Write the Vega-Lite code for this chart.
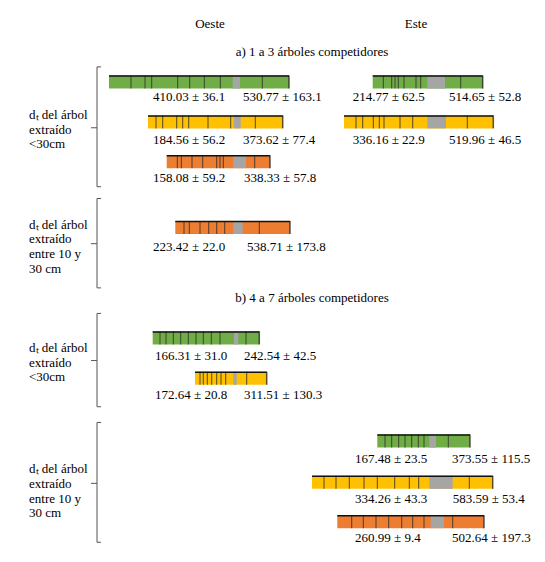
{
  "$schema": "https://vega.github.io/schema/vega-lite/v6.json",
  "width": 545,
  "height": 562,
  "autosize": {"type": "fit", "contains": "padding"},
  "padding": 0,
  "background": "white",
  "config": {
    "view": {"stroke": null},
    "axis": {"disable": true},
    "text": {"font": "Liberation Serif", "fontSize": 13, "color": "black", "baseline": "middle"}
  },
  "datasets": {
    "barras": [
      {"id": "a-O1", "inicio": 109, "fin": 289, "gris_ini": 232.7, "gris_fin": 240, "y": 78.5, "clase": "A"},
      {"id": "a-O2", "inicio": 148, "fin": 282.7, "gris_ini": 233.7, "gris_fin": 240.7, "y": 119, "clase": "B"},
      {"id": "a-O3", "inicio": 166.7, "fin": 270, "gris_ini": 233.3, "gris_fin": 246, "y": 159.5, "clase": "C"},
      {"id": "a-O4", "inicio": 175.3, "fin": 290, "gris_ini": 233.3, "gris_fin": 242.7, "y": 226.5, "clase": "C"},
      {"id": "a-E1", "inicio": 372.7, "fin": 482.7, "gris_ini": 427.3, "gris_fin": 445, "y": 78.5, "clase": "A"},
      {"id": "a-E2", "inicio": 344, "fin": 493.3, "gris_ini": 427.3, "gris_fin": 446, "y": 119, "clase": "B"},
      {"id": "b-O1", "inicio": 152.7, "fin": 259.3, "gris_ini": 234, "gris_fin": 238.3, "y": 339, "clase": "A"},
      {"id": "b-O2", "inicio": 195, "fin": 266.7, "gris_ini": 233.3, "gris_fin": 236.7, "y": 380, "clase": "B"},
      {"id": "b-E1", "inicio": 377.3, "fin": 470, "gris_ini": 429.3, "gris_fin": 436, "y": 444, "clase": "A"},
      {"id": "b-E2", "inicio": 312, "fin": 492.7, "gris_ini": 429.3, "gris_fin": 452.7, "y": 486, "clase": "B"},
      {"id": "b-E3", "inicio": 337.3, "fin": 484, "gris_ini": 430.7, "gris_fin": 444, "y": 526, "clase": "C"}
    ],
    "marcas": [
      {"id": "a-O1", "pos": 131, "y": 78.5}, {"id": "a-O1", "pos": 145, "y": 78.5}, {"id": "a-O1", "pos": 151.7, "y": 78.5},
      {"id": "a-O1", "pos": 177.7, "y": 78.5}, {"id": "a-O1", "pos": 189.7, "y": 78.5}, {"id": "a-O1", "pos": 204.3, "y": 78.5},
      {"id": "a-O1", "pos": 220.3, "y": 78.5}, {"id": "a-O1", "pos": 262.3, "y": 78.5},
      {"id": "a-O2", "pos": 156, "y": 119}, {"id": "a-O2", "pos": 162.7, "y": 119}, {"id": "a-O2", "pos": 176.7, "y": 119},
      {"id": "a-O2", "pos": 182.7, "y": 119}, {"id": "a-O2", "pos": 188.7, "y": 119}, {"id": "a-O2", "pos": 208, "y": 119},
      {"id": "a-O2", "pos": 230.7, "y": 119}, {"id": "a-O2", "pos": 255.3, "y": 119},
      {"id": "a-O3", "pos": 177.3, "y": 159.5}, {"id": "a-O3", "pos": 181.3, "y": 159.5}, {"id": "a-O3", "pos": 192, "y": 159.5},
      {"id": "a-O3", "pos": 202.7, "y": 159.5}, {"id": "a-O3", "pos": 216.7, "y": 159.5}, {"id": "a-O3", "pos": 220, "y": 159.5},
      {"id": "a-O3", "pos": 223.3, "y": 159.5}, {"id": "a-O3", "pos": 254.7, "y": 159.5},
      {"id": "a-O4", "pos": 184, "y": 226.5}, {"id": "a-O4", "pos": 189.3, "y": 226.5}, {"id": "a-O4", "pos": 200, "y": 226.5},
      {"id": "a-O4", "pos": 208.7, "y": 226.5}, {"id": "a-O4", "pos": 216.7, "y": 226.5}, {"id": "a-O4", "pos": 224.7, "y": 226.5},
      {"id": "a-O4", "pos": 259.3, "y": 226.5},
      {"id": "a-E1", "pos": 383.3, "y": 78.5}, {"id": "a-E1", "pos": 391.7, "y": 78.5}, {"id": "a-E1", "pos": 395, "y": 78.5},
      {"id": "a-E1", "pos": 398.3, "y": 78.5}, {"id": "a-E1", "pos": 404, "y": 78.5}, {"id": "a-E1", "pos": 416, "y": 78.5},
      {"id": "a-E1", "pos": 420.7, "y": 78.5}, {"id": "a-E1", "pos": 460.7, "y": 78.5},
      {"id": "a-E2", "pos": 356, "y": 119}, {"id": "a-E2", "pos": 362.7, "y": 119}, {"id": "a-E2", "pos": 373.3, "y": 119},
      {"id": "a-E2", "pos": 379.3, "y": 119}, {"id": "a-E2", "pos": 384, "y": 119}, {"id": "a-E2", "pos": 400, "y": 119},
      {"id": "a-E2", "pos": 412.7, "y": 119}, {"id": "a-E2", "pos": 467.3, "y": 119},
      {"id": "b-O1", "pos": 160, "y": 339}, {"id": "b-O1", "pos": 166, "y": 339}, {"id": "b-O1", "pos": 173.3, "y": 339},
      {"id": "b-O1", "pos": 180.7, "y": 339}, {"id": "b-O1", "pos": 188.3, "y": 339}, {"id": "b-O1", "pos": 196, "y": 339},
      {"id": "b-O1", "pos": 203.3, "y": 339}, {"id": "b-O1", "pos": 211.3, "y": 339}, {"id": "b-O1", "pos": 220, "y": 339},
      {"id": "b-O1", "pos": 246, "y": 339},
      {"id": "b-O2", "pos": 200, "y": 380}, {"id": "b-O2", "pos": 203.3, "y": 380}, {"id": "b-O2", "pos": 207.3, "y": 380},
      {"id": "b-O2", "pos": 211.7, "y": 380}, {"id": "b-O2", "pos": 216.7, "y": 380}, {"id": "b-O2", "pos": 221, "y": 380},
      {"id": "b-O2", "pos": 225.7, "y": 380}, {"id": "b-O2", "pos": 246.7, "y": 380},
      {"id": "b-E1", "pos": 385, "y": 444}, {"id": "b-E1", "pos": 391.7, "y": 444}, {"id": "b-E1", "pos": 398.7, "y": 444},
      {"id": "b-E1", "pos": 405, "y": 444}, {"id": "b-E1", "pos": 411.7, "y": 444}, {"id": "b-E1", "pos": 418.3, "y": 444},
      {"id": "b-E1", "pos": 424, "y": 444}, {"id": "b-E1", "pos": 448.3, "y": 444},
      {"id": "b-E2", "pos": 324, "y": 486}, {"id": "b-E2", "pos": 336, "y": 486}, {"id": "b-E2", "pos": 349.3, "y": 486},
      {"id": "b-E2", "pos": 364, "y": 486}, {"id": "b-E2", "pos": 377.3, "y": 486}, {"id": "b-E2", "pos": 394.7, "y": 486},
      {"id": "b-E2", "pos": 409.3, "y": 486}, {"id": "b-E2", "pos": 418.7, "y": 486}, {"id": "b-E2", "pos": 469.3, "y": 486},
      {"id": "b-E3", "pos": 351.7, "y": 526}, {"id": "b-E3", "pos": 363.3, "y": 526}, {"id": "b-E3", "pos": 376, "y": 526},
      {"id": "b-E3", "pos": 388.7, "y": 526}, {"id": "b-E3", "pos": 401.7, "y": 526}, {"id": "b-E3", "pos": 412.7, "y": 526},
      {"id": "b-E3", "pos": 424, "y": 526}, {"id": "b-E3", "pos": 452.7, "y": 526}
    ],
    "valores": [
      {"x": 153, "y": 94, "texto": "410.03 ± 36.1"}, {"x": 243, "y": 94, "texto": "530.77 ± 163.1"},
      {"x": 153, "y": 137, "texto": "184.56 ± 56.2"}, {"x": 243, "y": 137, "texto": "373.62 ± 77.4"},
      {"x": 153, "y": 176, "texto": "158.08 ± 59.2"}, {"x": 244, "y": 176, "texto": "338.33 ± 57.8"},
      {"x": 153, "y": 246, "texto": "223.42 ± 22.0"}, {"x": 247, "y": 246, "texto": "538.71 ± 173.8"},
      {"x": 352.7, "y": 94, "texto": "214.77 ± 62.5"}, {"x": 449, "y": 94, "texto": "514.65 ± 52.8"},
      {"x": 352.7, "y": 137, "texto": "336.16 ± 22.9"}, {"x": 449, "y": 137, "texto": "519.96 ± 46.5"},
      {"x": 155, "y": 357, "texto": "166.31 ± 31.0"}, {"x": 244, "y": 357, "texto": "242.54 ± 42.5"},
      {"x": 155, "y": 397, "texto": "172.64 ± 20.8"}, {"x": 244, "y": 397, "texto": "311.51 ± 130.3"},
      {"x": 355, "y": 462, "texto": "167.48 ± 23.5"}, {"x": 452, "y": 462, "texto": "373.55 ± 115.5"},
      {"x": 355, "y": 502.5, "texto": "334.26 ± 43.3"}, {"x": 452.7, "y": 502.5, "texto": "583.59 ± 53.4"},
      {"x": 355, "y": 543, "texto": "260.99 ± 9.4"}, {"x": 452, "y": 543, "texto": "502.64 ± 197.3"}
    ],
    "titulos": [
      {"x": 210, "y": 19, "texto": "Oeste"},
      {"x": 416, "y": 19, "texto": "Este"},
      {"x": 312, "y": 48, "texto": "a) 1 a 3 árboles competidores"},
      {"x": 312, "y": 298, "texto": "b) 4 a 7 árboles competidores"}
    ],
    "rotulos": [
      {"x": 29, "y": 112, "texto": "dₜ del árbol"}, {"x": 29, "y": 127, "texto": "extraído"}, {"x": 29, "y": 142, "texto": "<30cm"},
      {"x": 29, "y": 223.5, "texto": "dₜ del árbol"}, {"x": 29, "y": 238.5, "texto": "extraído"}, {"x": 29, "y": 253.5, "texto": "entre 10 y"}, {"x": 29, "y": 268.5, "texto": "30 cm"},
      {"x": 29, "y": 349, "texto": "dₜ del árbol"}, {"x": 29, "y": 364, "texto": "extraído"}, {"x": 29, "y": 379, "texto": "<30cm"},
      {"x": 29, "y": 472.5, "texto": "dₜ del árbol"}, {"x": 29, "y": 487.5, "texto": "extraído"}, {"x": 29, "y": 502.5, "texto": "entre 10 y"}, {"x": 29, "y": 517.5, "texto": "30 cm"}
    ],
    "llaves": [
      {"x": 97, "x2": 97, "y": 63, "y2": 185}, {"x": 97, "x2": 101, "y": 63, "y2": 63}, {"x": 97, "x2": 101, "y": 185, "y2": 185}, {"x": 91, "x2": 97, "y": 125, "y2": 125},
      {"x": 97, "x2": 97, "y": 197, "y2": 288}, {"x": 97, "x2": 101, "y": 197, "y2": 197}, {"x": 97, "x2": 101, "y": 288, "y2": 288}, {"x": 91, "x2": 97, "y": 243, "y2": 243},
      {"x": 97, "x2": 97, "y": 314, "y2": 409}, {"x": 97, "x2": 101, "y": 314, "y2": 314}, {"x": 97, "x2": 101, "y": 409, "y2": 409}, {"x": 91, "x2": 97, "y": 362, "y2": 362},
      {"x": 97, "x2": 97, "y": 425, "y2": 547}, {"x": 97, "x2": 101, "y": 425, "y2": 425}, {"x": 97, "x2": 101, "y": 547, "y2": 547}, {"x": 91, "x2": 97, "y": 487, "y2": 487}
    ]
  },
  "layer": [
    {
      "data": {"name": "barras"},
      "mark": {"type": "bar", "orient": "horizontal", "size": 13},
      "encoding": {
        "x": {"field": "inicio", "type": "quantitative", "axis": null, "scale": {"domain": [0, 545], "nice": false, "zero": false}},
        "x2": {"field": "fin"},
        "y": {"field": "y", "type": "quantitative", "axis": null, "scale": {"domain": [0, 562], "nice": false, "zero": false, "reverse": true}},
        "color": {
          "field": "clase",
          "type": "nominal",
          "scale": {"domain": ["A", "B", "C"], "range": ["#70AD47", "#FFC000", "#ED7D31"]},
          "legend": null
        }
      }
    },
    {
      "data": {"name": "barras"},
      "mark": {"type": "bar", "orient": "horizontal", "size": 13, "color": "#A5A5A5"},
      "encoding": {
        "x": {"field": "gris_ini", "type": "quantitative", "axis": null},
        "x2": {"field": "gris_fin"},
        "y": {"field": "y", "type": "quantitative", "axis": null}
      }
    },
    {
      "data": {"name": "marcas"},
      "mark": {"type": "tick", "orient": "vertical", "size": 13, "thickness": 1, "color": "#2a2a2a", "opacity": 0.8},
      "encoding": {
        "x": {"field": "pos", "type": "quantitative", "axis": null},
        "y": {"field": "y", "type": "quantitative", "axis": null}
      }
    },
    {
      "data": {"name": "barras"},
      "mark": {"type": "rule", "color": "#111111", "strokeWidth": 1.5, "yOffset": -6},
      "encoding": {
        "x": {"field": "inicio", "type": "quantitative", "axis": null},
        "x2": {"field": "fin"},
        "y": {"field": "y", "type": "quantitative", "axis": null}
      }
    },
    {
      "data": {"name": "barras"},
      "mark": {"type": "tick", "orient": "vertical", "size": 13, "thickness": 1.5, "color": "#111111"},
      "encoding": {
        "x": {"field": "fin", "type": "quantitative", "axis": null},
        "y": {"field": "y", "type": "quantitative", "axis": null}
      }
    },
    {
      "data": {"name": "llaves"},
      "mark": {"type": "rule", "color": "#555555", "strokeWidth": 1},
      "encoding": {
        "x": {"field": "x", "type": "quantitative", "axis": null},
        "x2": {"field": "x2"},
        "y": {"field": "y", "type": "quantitative", "axis": null},
        "y2": {"field": "y2"}
      }
    },
    {
      "data": {"name": "valores"},
      "mark": {"type": "text", "align": "left"},
      "encoding": {
        "x": {"field": "x", "type": "quantitative", "axis": null},
        "y": {"field": "y", "type": "quantitative", "axis": null},
        "text": {"field": "texto"}
      }
    },
    {
      "data": {"name": "rotulos"},
      "mark": {"type": "text", "align": "left"},
      "encoding": {
        "x": {"field": "x", "type": "quantitative", "axis": null},
        "y": {"field": "y", "type": "quantitative", "axis": null},
        "text": {"field": "texto"}
      }
    },
    {
      "data": {"name": "titulos"},
      "mark": {"type": "text", "align": "center"},
      "encoding": {
        "x": {"field": "x", "type": "quantitative", "axis": null},
        "y": {"field": "y", "type": "quantitative", "axis": null},
        "text": {"field": "texto"}
      }
    }
  ]
}
